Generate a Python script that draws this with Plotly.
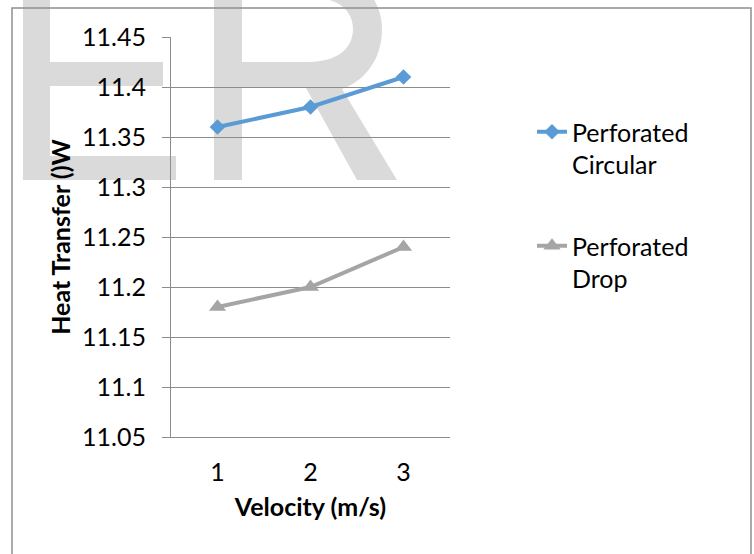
import plotly.graph_objects as go

# ---- data ----
velocity = [1, 2, 3]
circular = [11.36, 11.38, 11.41]
drop = [11.18, 11.20, 11.24]
y_ticks = [11.05, 11.1, 11.15, 11.2, 11.25, 11.3, 11.35, 11.4, 11.45]
y_tick_text = ["11.05", "11.1", "11.15", "11.2", "11.25", "11.3", "11.35", "11.4", "11.45"]

W, H = 754, 554
ML, MR, MT, MB = 171, 304, 37, 117
PW, PH = W - ML - MR, H - MT - MB

def px(x):
    return (x - ML) / PW

def py(y):
    return (H - MB - y) / PH

FONT = "Lato, 'Open Sans', sans-serif"
FS = 25
GRID = "#8c8c8c"
WM = "#dadada"

fig = go.Figure()
fig.add_trace(go.Scatter(
    x=velocity, y=circular, name="Perforated<br>Circular", mode="lines+markers",
    line=dict(color="#5b9bd5", width=4),
    marker=dict(symbol="diamond", size=12, color="#5b9bd5"),
    legendgroup="a"))
fig.add_trace(go.Scatter(
    x=velocity, y=drop, name="Perforated<br>Drop", mode="lines+markers",
    line=dict(color="#a5a5a5", width=4),
    marker=dict(symbol="triangle-up", size=15, color="#a5a5a5"),
    legendgroup="b"))

# ---- watermark (decorative, behind everything) ----
shapes = []
def rect(x0, y0, x1, y1, **kw):
    shapes.append(dict(type="rect", xref="paper", yref="paper",
                       x0=px(x0), x1=px(x1), y0=py(y0), y1=py(y1),
                       fillcolor=WM, line=dict(width=0), layer="below", **kw))

rect(23, -40, 50, 180)
rect(50, 62, 163, 86)
rect(50, 156, 176, 180)

def P(x, y):
    return f"{px(x):.5f},{py(y):.5f}"

r_path = (
    f"M{P(214,180)} L{P(214,-30)} L{P(310,-30)} "
    f"C{P(356,-30)} {P(382,-4)} {P(382,29)} "
    f"C{P(382,62)} {P(362,82)} {P(342,89)} "
    f"L{P(397,180)} L{P(357,180)} L{P(306,88)} L{P(242,88)} L{P(242,180)} Z "
    f"M{P(242,-3)} L{P(242,62)} L{P(308,62)} "
    f"C{P(338,62)} {P(353,48)} {P(353,29)} "
    f"C{P(353,11)} {P(339,-3)} {P(308,-3)} Z"
)
shapes.append(dict(type="path", xref="paper", yref="paper", path=r_path,
                   fillcolor=WM, line=dict(width=0), layer="below"))

# chart frame
shapes.append(dict(type="rect", xref="paper", yref="paper",
                   x0=px(12), x1=px(751), y0=py(8), y1=py(570),
                   line=dict(color="#8e8e8e", width=1.5), fillcolor="rgba(0,0,0,0)",
                   layer="above"))

fig.update_layout(
    width=W, height=H,
    margin=dict(l=ML, r=MR, t=MT, b=MB, pad=0),
    paper_bgcolor="white", plot_bgcolor="rgba(0,0,0,0)",
    font=dict(family=FONT, size=FS, color="#000000"),
    shapes=shapes,
    showlegend=True,
    legend=dict(x=px(532), y=py(109), xanchor="left", yanchor="top",
                valign="top", tracegroupgap=46, bgcolor="rgba(0,0,0,0)",
                font=dict(family=FONT, size=FS, color="#000000"),
                itemwidth=30),
    xaxis=dict(range=[0.5, 3.5], tickvals=velocity, ticktext=[str(v) for v in velocity],
               showgrid=False, zeroline=False, showline=True, linecolor=GRID, linewidth=1,
               ticks="", ticklabelstandoff=13,
               title=dict(text="<b>Velocity (m/s)</b>", standoff=13,
                          font=dict(family=FONT, size=FS, color="#000000"))),
    yaxis=dict(range=[11.05, 11.45], tickvals=y_ticks, ticktext=y_tick_text,
               showgrid=True, gridcolor=GRID, gridwidth=1, zeroline=False,
               showline=True, linecolor=GRID, linewidth=1,
               ticks="outside", ticklen=8, tickcolor=GRID, tickwidth=1,
               ticklabelstandoff=11,
               title=dict(text="<b>Heat Transfer ()W</b>", standoff=4,
                          font=dict(family=FONT, size=FS, color="#000000"))),
)

fig.write_html("out.html")
